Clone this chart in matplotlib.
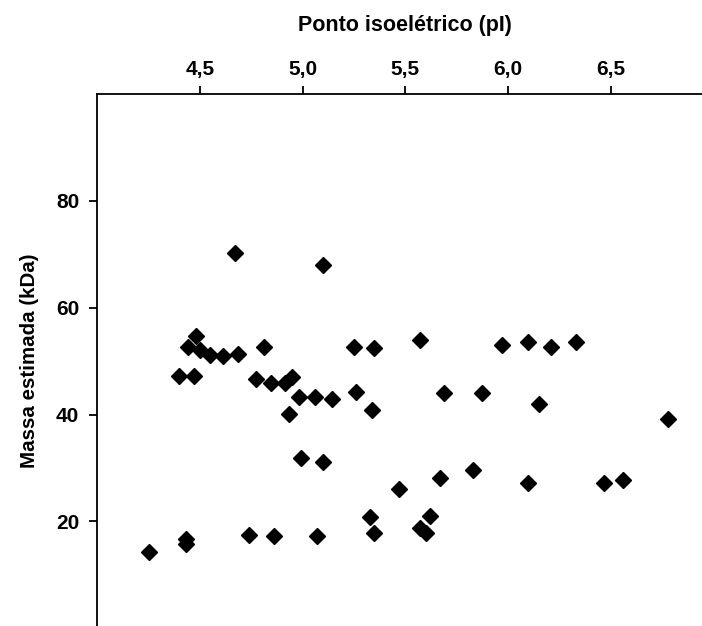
import matplotlib
matplotlib.use("Agg")
import matplotlib.pyplot as plt
from matplotlib.ticker import FuncFormatter

# ponto isoeletrico (pI) e massa estimada (kDa) de cada spot
pi = [4.25, 4.43, 4.43, 4.74, 4.86, 5.07, 5.33, 5.35, 4.99, 5.10,
      5.47, 5.57, 5.60, 5.62, 5.67, 5.83, 6.10, 6.47, 6.56, 6.78,
      5.69, 5.875, 6.15, 5.57, 5.97, 6.10, 6.21, 6.33, 5.25, 5.35,
      5.26, 5.34, 4.67, 5.10, 4.48, 4.44, 4.50, 4.55, 4.61, 4.685,
      4.81, 4.40, 4.47, 4.775, 4.845, 4.915, 4.95, 4.98, 5.06, 5.145,
      4.935]
massa = [14.3, 16.8, 15.75, 17.5, 17.2, 17.3, 20.9, 17.8, 31.85, 31.2,
         26.1, 18.7, 17.8, 21.05, 28.2, 29.7, 27.2, 27.2, 27.8, 39.1,
         44.0, 44.0, 42.0, 54.0, 53.05, 53.6, 52.7, 53.6, 52.7, 52.4,
         44.3, 40.8, 70.2, 68.0, 54.7, 52.6, 52.1, 51.2, 51.0, 51.4,
         52.6, 47.25, 47.25, 46.6, 45.9, 45.9, 47.1, 43.3, 43.3, 43.0,
         40.2]

xticks = [4.5, 5.0, 5.5, 6.0, 6.5]
yticks = [20, 40, 60, 80]

plt.rcParams['font.family'] = ['Liberation Sans', 'DejaVu Sans']
plt.rcParams['font.weight'] = 'bold'

fig = plt.figure(figsize=(7.02, 6.26), dpi=100)
ax = fig.add_axes([0.1386, -0.0037, 0.8774, 0.8535])

ax.plot(pi, massa, 'D', color='black', markersize=8.2, linestyle='none')

ax.set_xlim(4.0, 7.0)
ax.set_ylim(0, 100)
ax.set_xticks(xticks)
ax.set_yticks(yticks)
ax.xaxis.set_major_formatter(FuncFormatter(lambda v, p: f"{v:.1f}".replace('.', ',')))

ax.xaxis.tick_top()
ax.xaxis.set_label_position('top')
ax.spines['right'].set_visible(False)
ax.spines['bottom'].set_visible(False)
for s in ['top', 'left']:
    ax.spines[s].set_linewidth(1.3)

ax.tick_params(axis='both', length=6, width=1.3, labelsize=15)
ax.tick_params(axis='x', pad=4.5)
ax.tick_params(axis='y', pad=7)

ax.set_xlabel('Ponto isoelétrico (pI)', fontsize=15.5, fontweight='bold', labelpad=21)
ax.set_ylabel('Massa estimada (kDa)', fontsize=14.8, fontweight='bold', labelpad=12)

fig.savefig('out.png', dpi=100)
